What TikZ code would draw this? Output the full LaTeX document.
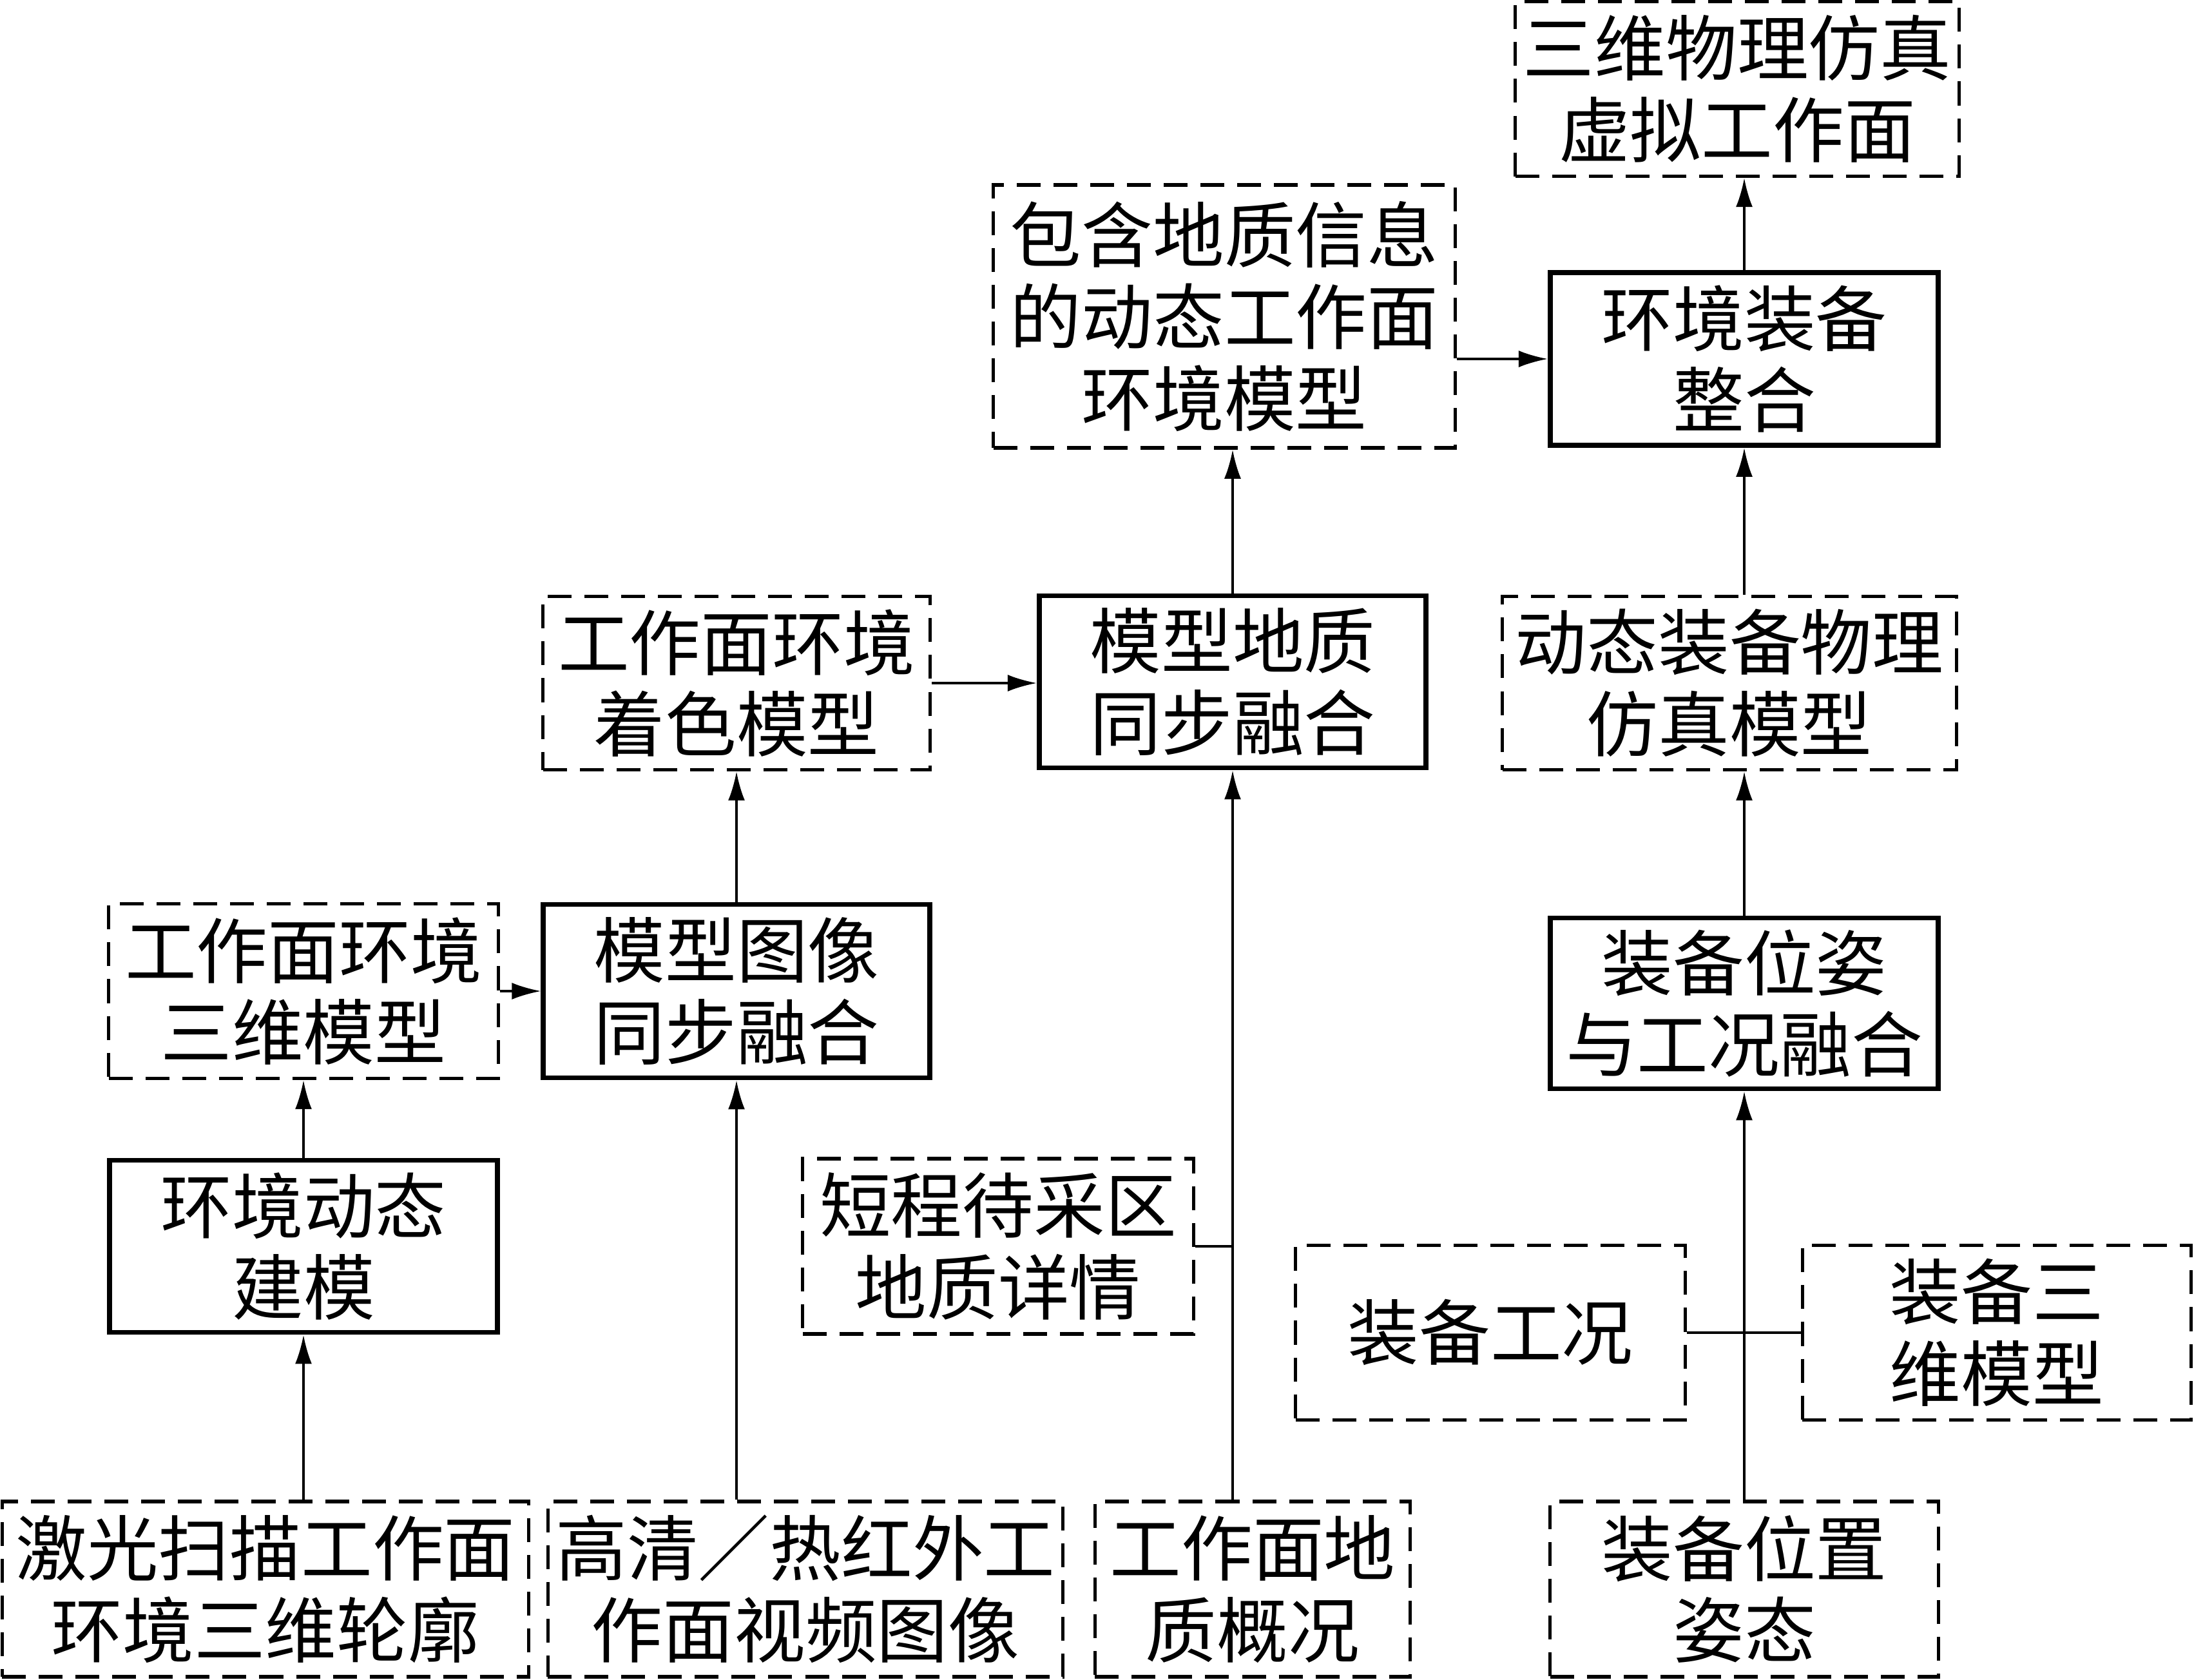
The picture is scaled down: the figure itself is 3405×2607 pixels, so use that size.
\documentclass[tikz,border=0pt]{standalone}
\usepackage{fontspec}
\newfontfamily\cjk{Noto Sans CJK SC}
\usetikzlibrary{arrows.meta}
\tikzset{>={Latex[length=4.5mm,width=2.6mm]}}
\tikzset{
  blk/.style={draw, line width=2.2pt, align=center, inner sep=0pt,
    font=\cjk\fontsize{31.5}{36}\selectfont},
  dashblk/.style={blk, line width=1.5pt, dash pattern=on 3.7mm off 2mm},
  conn/.style={line width=1pt}
}

\begin{document}
\begin{tikzpicture}[x=0.01cm,y=-0.01cm]
            \useasboundingbox (0,0) rectangle (3405,2607);
            % top row
            \node[dashblk, minimum width=6.88cm, minimum height=2.71cm] (virt) at (2696,138) {三维物理仿真\\虚拟工作面};
            \node[dashblk, minimum width=7.16cm, minimum height=4.08cm] (dynenv) at (1900,491) {包含地质信息\\的动态工作面\\环境模型};
            \node[blk, minimum width=6.02cm, minimum height=2.68cm] (integ) at (2707,557) {环境装备\\整合};
            % second row
            \node[dashblk, minimum width=6.00cm, minimum height=2.69cm] (colmodel) at (1143,1060) {工作面环境\\着色模型};
            \node[blk, minimum width=6.00cm, minimum height=2.67cm] (geofuse) at (1913,1058) {模型地质\\同步融合};
            \node[dashblk, minimum width=7.04cm, minimum height=2.69cm] (physmod) at (2684,1060) {动态装备物理\\仿真模型};
            % third row
            \node[dashblk, minimum width=6.04cm, minimum height=2.71cm] (model3d) at (471,1538) {工作面环境\\三维模型};
            \node[blk, minimum width=5.99cm, minimum height=2.69cm] (imgfuse) at (1143,1538) {模型图像\\同步融合};
            \node[blk, minimum width=6.02cm, minimum height=2.65cm] (posefuse) at (2707,1557) {装备位姿\\与工况融合};
            % fourth row
            \node[blk, minimum width=6.02cm, minimum height=2.67cm] (envmod) at (471,1934) {环境动态\\建模};
            \node[dashblk, minimum width=6.06cm, minimum height=2.72cm] (detail) at (1549,1934) {短程待采区\\地质详情};
            \node[dashblk, minimum width=6.04cm, minimum height=2.71cm] (state) at (2313,2068) {装备工况};
            \node[dashblk, minimum width=6.03cm, minimum height=2.71cm] (equip3d) at (3099,2068) {装备三\\维模型};
            % inputs
            \node[dashblk, minimum width=8.17cm, minimum height=2.72cm] (scan) at (412,2466) {激光扫描工作面\\环境三维轮廓};
            \node[dashblk, minimum width=7.99cm, minimum height=2.72cm] (video) at (1250,2466) {高清／热红外工\\作面视频图像};
            \node[dashblk, minimum width=4.89cm, minimum height=2.72cm] (geoinfo) at (1944,2466) {工作面地\\质概况};
            \node[dashblk, minimum width=6.02cm, minimum height=2.72cm] (pose) at (2707,2466) {装备位置\\姿态};
            % connectors
            \draw[conn,->] (scan.north -| envmod.south) -- (envmod.south);
            \draw[conn,->] (envmod) -- (model3d);
            \draw[conn,->] (model3d) -- (imgfuse);
            \draw[conn,->] (video.north -| imgfuse.south) -- (imgfuse.south);
            \draw[conn,->] (imgfuse) -- (colmodel);
            \draw[conn,->] (colmodel.east) -- (colmodel.east -| geofuse.west);
            \draw[conn,->] (geoinfo.north -| geofuse.south) -- (geofuse.south);
            \draw[conn] (detail.east) -- (detail.east -| geofuse.south);
            \draw[conn,->] (geofuse.north) -- (geofuse.north |- dynenv.south);
            \draw[conn,->] (dynenv.east |- integ.west) -- (integ.west);
            \draw[conn,->] (integ.north) -- (integ.north |- virt.south);
            \draw[conn,->] (pose) -- (posefuse);
            \draw[conn] (state) -- (equip3d);
            \draw[conn,->] (posefuse.north) -- (posefuse.north |- physmod.south);
            \draw[conn,->] (physmod.north -| integ.south) -- (integ.south);
        \end{tikzpicture}
\end{document}
